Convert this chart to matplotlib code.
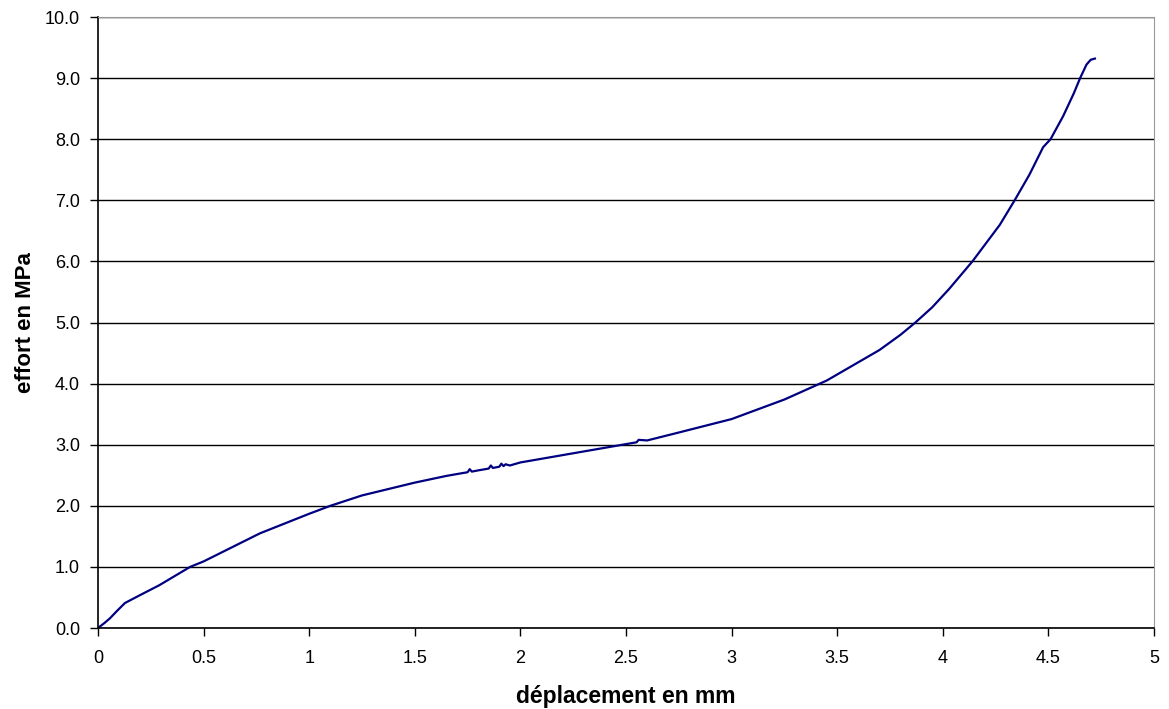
import numpy as np
import matplotlib.pyplot as plt

plt.rcParams['font.family'] = ['Liberation Sans', 'DejaVu Sans']

# courbe effort / déplacement
deplacement = [0.0, 0.03, 0.057, 0.09, 0.128, 0.2, 0.29, 0.436, 0.5, 0.767, 1.0, 1.1,
               1.25, 1.5, 1.65, 1.75, 1.76, 1.77, 1.8, 1.85, 1.86, 1.87, 1.9, 1.91,
               1.92, 1.93, 1.95, 2.0, 2.25, 2.5, 2.55, 2.56, 2.6, 2.75, 3.0, 3.25,
               3.45, 3.6, 3.7, 3.8, 3.87, 3.95, 4.03, 4.14, 4.27, 4.34, 4.41, 4.475,
               4.51, 4.57, 4.62, 4.65, 4.68, 4.70, 4.72]
effort = [0.0, 0.08, 0.16, 0.28, 0.41, 0.54, 0.70, 1.0, 1.09, 1.55, 1.87, 2.0,
          2.17, 2.38, 2.49, 2.55, 2.6, 2.56, 2.58, 2.61, 2.66, 2.62, 2.64, 2.69,
          2.65, 2.68, 2.66, 2.71, 2.86, 3.01, 3.04, 3.08, 3.07, 3.2, 3.42, 3.74,
          4.05, 4.35, 4.55, 4.8, 5.0, 5.25, 5.55, 6.0, 6.6, 7.0, 7.42, 7.87,
          8.0, 8.38, 8.75, 9.0, 9.22, 9.30, 9.32]

fig = plt.figure(figsize=(11.69, 7.09), dpi=100)
ax = fig.add_axes([0.0838, 0.1142, 0.9034, 0.8618])

ax.plot(deplacement, effort, color='#000080', linewidth=1.6,
        solid_joinstyle='round')

ax.set_xlim(0, 5)
ax.set_ylim(0, 10)
ax.set_xticks(np.arange(0, 5.01, 0.5))
ax.set_xticklabels(['0', '0.5', '1', '1.5', '2', '2.5', '3', '3.5', '4', '4.5', '5'])
ax.set_yticks(np.arange(0, 10.01, 1.0))
ax.set_yticklabels([f'{v:.1f}' for v in np.arange(0, 10.01, 1.0)])
ax.tick_params(labelsize=13, length=6, width=1, color='black')
ax.tick_params(axis='x', pad=10)
ax.tick_params(axis='y', pad=7)

ax.grid(axis='y', color='black', linewidth=1)
ax.set_axisbelow(True)
ax.spines['top'].set_color('#999999')
ax.spines['right'].set_color('#999999')
for s in ['left', 'bottom']:
    ax.spines[s].set_color('black')
    ax.spines[s].set_linewidth(1.2)

ax.set_xlabel('déplacement en mm', fontsize=16.5, fontweight='bold', labelpad=13)
ax.set_ylabel('effort en MPa', fontsize=16, fontweight='bold', labelpad=6)

fig.savefig('out.png', dpi=100)
